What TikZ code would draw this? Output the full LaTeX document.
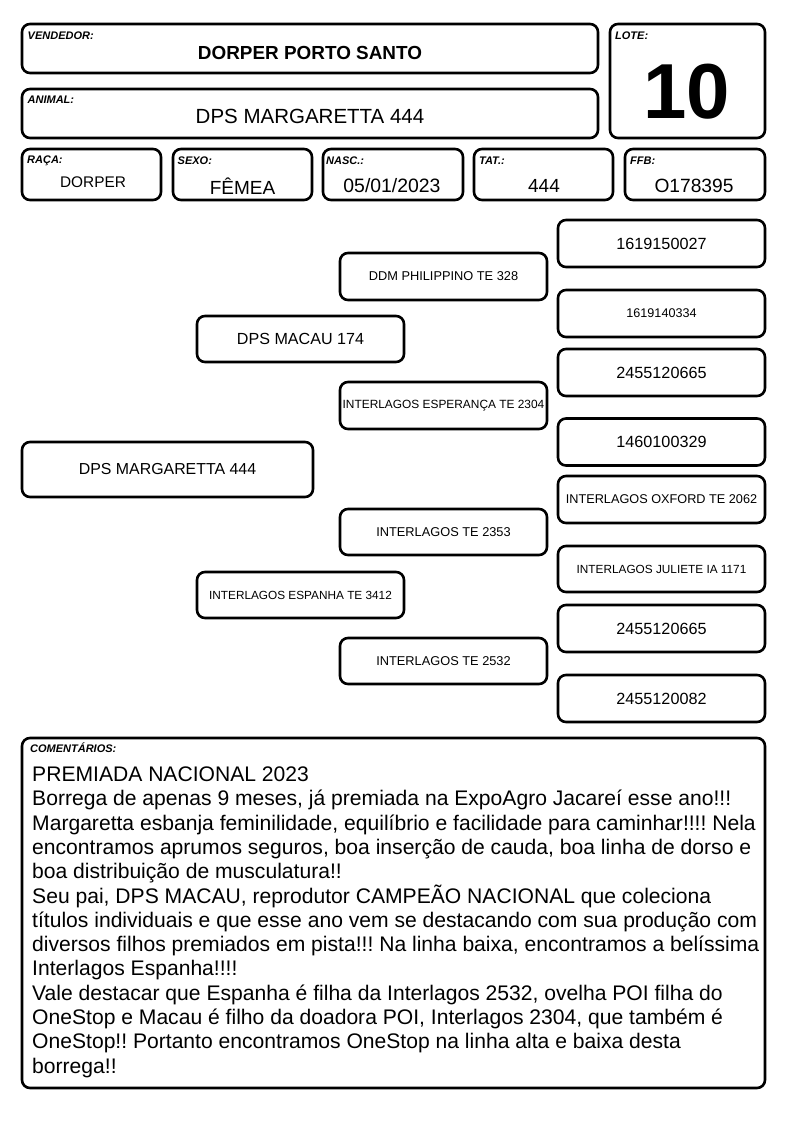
\documentclass[tikz,border=0pt]{standalone}
\usepackage{fontspec}
\setmainfont{Liberation Sans}
\frenchspacing
\begin{document}
\begin{tikzpicture}[x=1pt,y=-1pt,
  box/.style={draw, line width=2.6pt, rounded corners=8pt, inner sep=0pt},
  fs/.style={font=\fontsize{#1pt}{#1pt}\selectfont},
  fsb/.style={font=\fontsize{#1pt}{#1pt}\selectfont\bfseries},
  lbl/.style={anchor=west, inner sep=0pt, font=\fontsize{11pt}{12pt}\selectfont\bfseries\itshape},
  txt/.style={inner sep=0pt},
  rowbox/.style={box, minimum width=139pt, minimum height=51pt},
  pbox/.style={box, minimum width=207pt, minimum height=47pt},
  cline/.style={anchor=base west, inner sep=0pt, font=\fontsize{21.1pt}{24pt}\selectfont}
]
\useasboundingbox[fill=white] (0,0) rectangle (794,1123);

% header boxes
\node[box, minimum width=576pt, minimum height=49pt] (vend) at (310,48.5) {};
\node[box, minimum width=576pt, minimum height=49pt] (anim) at (310,113.5) {};
\node[box, minimum width=155pt, minimum height=114pt] (lote) at (687.5,81) {};
\node[rowbox] (raca) at (91.5,174.5) {};
\node[rowbox] (sexo) at (242.5,174.5) {};
\node[rowbox, minimum width=140pt] (nasc) at (393,174.5) {};
\node[rowbox] (tat) at (543.5,174.5) {};
\node[rowbox, minimum width=140pt] (ffb) at (695,174.5) {};

\node[lbl] (lvend) at (27.5,35.3) {VENDEDOR:};
\node[lbl] (lanim) at (27.5,99.5) {ANIMAL:};
\node[lbl] (llote) at (615,35.5) {LOTE:};
\node[lbl] (lraca) at (27,160.5) {RAÇA:};
\node[lbl] (lsexo) at (177.5,160.5) {SEXO:};
\node[lbl] (lnasc) at (326,160.5) {NASC.:};
\node[lbl] (ltat) at (479,160.5) {TAT.:};
\node[lbl] (lffb) at (630,160.5) {FFB:};

\node[txt, fsb=18.9] (tvend) at (310,53) {DORPER PORTO SANTO};
\node[txt, fs=20.5] (tanim) at (310,116) {DPS MARGARETTA 444};
\node[txt, fsb=78] (tlote) at (687,92) {10};
\node[txt, fs=15.4] (traca) at (93,182) {DORPER};
\node[txt, fs=19] (tsexo) at (242.5,185.8) {FÊMEA};
\node[txt, fs=19.4] (tnasc) at (392,186) {05/01/2023};
\node[txt, fs=19] (ttat) at (544,186) {444};
\node[txt, fs=19.2] (tffb) at (694,186) {O178395};

% pedigree
\node[pbox, fs=16.2] (p1) at (661.5,243.5) {1619150027};
\node[pbox, fs=12.8] (ddm) at (443.5,276.5) {DDM PHILIPPINO TE 328};
\node[pbox, fs=12.6] (p2) at (661.5,313.5) {1619140334};
\node[pbox, minimum height=46pt, fs=16.1] (macau) at (300.5,339) {DPS MACAU 174};
\node[pbox, fs=16.2] (p3) at (661.5,372.5) {2455120665};
\node[pbox, fs=11.9] (esper) at (443.5,405.5) {INTERLAGOS ESPERANÇA TE 2304};
\node[pbox, fs=16.2] (p4) at (661.5,442) {1460100329};
\node[box, minimum width=291pt, minimum height=55pt, fs=15.9] (marg) at (167.5,469.5) {DPS MARGARETTA 444};
\node[pbox, fs=12.7] (oxford) at (661.5,499.5) {INTERLAGOS OXFORD TE 2062};
\node[pbox, minimum height=46pt, fs=12.8] (te2353) at (443.5,532) {INTERLAGOS TE 2353};
\node[pbox, minimum height=46pt, fs=11.8] (juliete) at (661.5,569) {INTERLAGOS JULIETE IA 1171};
\node[pbox, minimum height=46pt, fs=11.8] (espanha) at (300.5,595) {INTERLAGOS ESPANHA TE 3412};
\node[pbox, fs=16.2] (p7) at (661.5,628.5) {2455120665};
\node[pbox, minimum height=46pt, fs=12.8] (te2532) at (443.5,661) {INTERLAGOS TE 2532};
\node[pbox, fs=16.2] (p8) at (661.5,698.5) {2455120082};

% comments
\node[box, minimum width=743pt, minimum height=350pt] (coment) at (393.5,913) {};
\node[lbl] (lcom) at (30,748) {COMENTÁRIOS:};
\foreach \t [count=\i from 0] in {
  {PREMIADA NACIONAL 2023},
  {Borrega de apenas 9 meses, já premiada na ExpoAgro Jacareí esse ano!!!},
  {Margaretta esbanja feminilidade, equilíbrio e facilidade para caminhar!!!! Nela},
  {encontramos aprumos seguros, boa inserção de cauda, boa linha de dorso e},
  {boa distribuição de musculatura!!},
  {Seu pai, DPS MACAU, reprodutor CAMPEÃO NACIONAL que coleciona},
  {títulos individuais e que esse ano vem se destacando com sua produção com},
  {diversos filhos premiados em pista!!! Na linha baixa, encontramos a belíssima},
  {Interlagos Espanha!!!!},
  {Vale destacar que Espanha é filha da Interlagos 2532, ovelha POI filha do},
  {OneStop e Macau é filho da doadora POI, Interlagos 2304, que também é},
  {OneStop!! Portanto encontramos OneStop na linha alta e baixa desta},
  {borrega!!}}
{
  \node[cline] (c\i) at (32,{781.5+24.3*\i}) {\t};
}
\end{tikzpicture}
\end{document}
